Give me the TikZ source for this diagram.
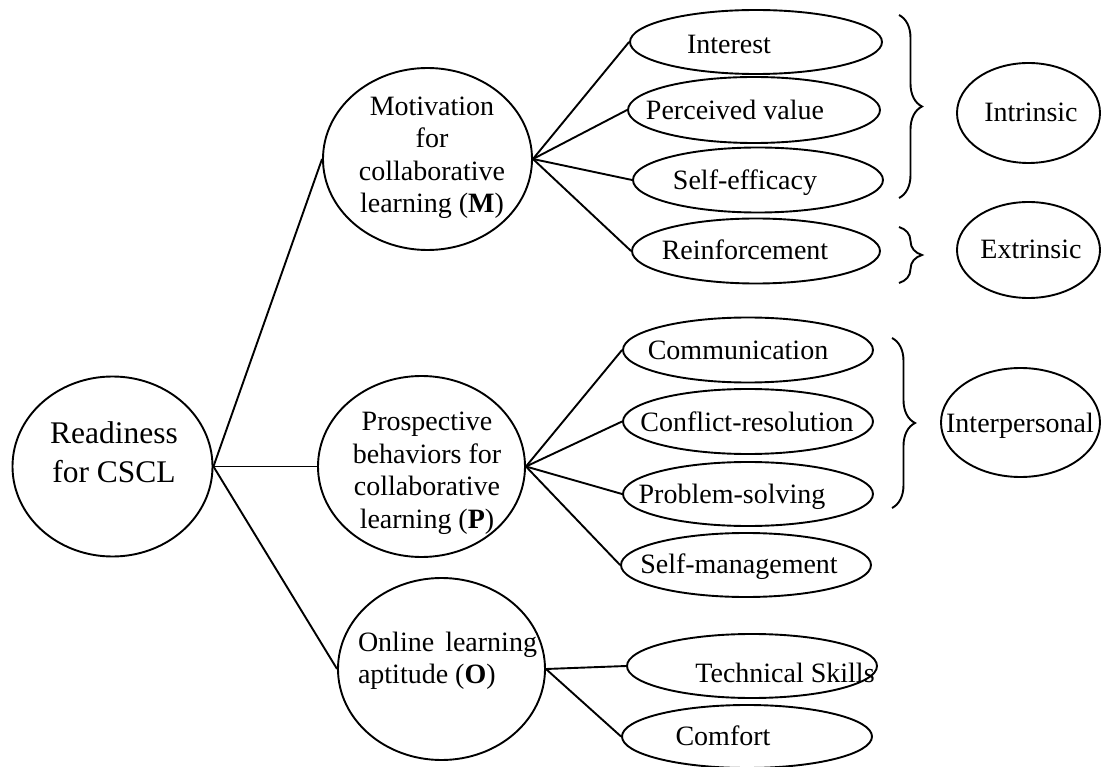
\documentclass[tikz,border=0pt]{standalone}
\usepackage{fontspec}
\setmainfont{Liberation Serif}
\usetikzlibrary{shapes.geometric,decorations.pathreplacing}
\begin{document}
\begin{tikzpicture}[x=1pt,y=-1pt,
  ell/.style={draw, ellipse, inner sep=0pt, line width=1.9pt},
  txt/.style={inner sep=0pt, font=\fontsize{28}{32.5}\selectfont},
  big/.style={inner sep=0pt, font=\fontsize{31.5}{39}\selectfont},
  conn/.style={line width=1.9pt},
  brc/.style={decorate, decoration={brace, amplitude=23pt}, line width=1.9pt}]
\useasboundingbox (0,0) rectangle (1101,767);

% main ellipses
\node[ell, minimum width=200pt, minimum height=180pt] (r) at (112.5,466.5) {};
\node[ell, minimum width=209pt, minimum height=182pt] (m) at (427.5,159) {};
\node[ell, minimum width=207pt, minimum height=181pt] (p) at (421.5,466.5) {};
\node[ell, minimum width=207pt, minimum height=182pt] (o) at (441.5,669) {};

% M leaves
\node[ell, minimum width=252pt, minimum height=64pt] (int) at (756,42) {};
\node[ell, minimum width=252pt, minimum height=66pt] (pv) at (754,110) {};
\node[ell, minimum width=250pt, minimum height=65pt] (se) at (758,180) {};
\node[ell, minimum width=248pt, minimum height=65pt] (rf) at (756,251) {};
\node[ell, minimum width=143pt, minimum height=100pt] (intr) at (1028.5,113) {};
\node[ell, minimum width=143pt, minimum height=96pt] (extr) at (1028.5,250) {};

% P leaves
\node[ell, minimum width=250pt, minimum height=65pt] (cm) at (748,350) {};
\node[ell, minimum width=250pt, minimum height=65pt] (cr) at (748,421.5) {};
\node[ell, minimum width=250pt, minimum height=64pt] (ps) at (748,494) {};
\node[ell, minimum width=250pt, minimum height=64pt] (sm) at (746,565) {};
\node[ell, minimum width=159pt, minimum height=109pt] (ip) at (1020.5,422.5) {};

% O leaves
\node[ell, minimum width=250pt, minimum height=64pt] (ts) at (752,666) {};
\node[ell, minimum width=250pt, minimum height=63pt] (cf) at (747,736.5) {};

% texts
\node[big, align=center] (r-t) at (114,452) {Readiness\\for CSCL};
\node[txt, align=center] (m-t) at (432,158) {Motivation\\for\\collaborative\\learning (\textbf{M})};
\node[txt, align=center] (p-t) at (427,473.5) {Prospective\\behaviors for\\collaborative\\learning (\textbf{P})};
\node[txt, align=left] (o-t) at (447.5,661) {\makebox[179pt][s]{Online learning}\\aptitude (\textbf{O})};

\node[txt, anchor=base] (int-t) at (729,54) {Interest};
\node[txt, anchor=base] (pv-t) at (735,120) {Perceived value};
\node[txt, anchor=base] (se-t) at (745,190) {Self-efficacy};
\node[txt, anchor=base] (rf-t) at (745,260) {Reinforcement};
\node[txt, anchor=base] (intr-t) at (1031,122) {Intrinsic};
\node[txt, anchor=base] (extr-t) at (1031,259) {Extrinsic};
\node[txt, anchor=base] (cm-t) at (738,360) {Communication};
\node[txt, anchor=base] (cr-t) at (747,431.5) {Conflict-resolution};
\node[txt, anchor=base] (ps-t) at (732,503) {Problem-solving};
\node[txt, anchor=base] (sm-t) at (739,573) {Self-management};
\node[txt, anchor=base] (ip-t) at (1020,432) {Interpersonal};
\node[txt, anchor=base] (ts-t) at (785,682) {Technical Skills};
\node[txt, anchor=base] (cf-t) at (723,745) {Comfort};

% connectors
\draw[conn] (r.east) -- (m.west);
\draw[conn] (r.east) -- (p.west);
\draw[conn] (r.east) -- (o.west);
\foreach \t in {int,pv,se,rf} \draw[conn] (m.east) -- (\t.west);
\foreach \t in {cm,cr,ps,sm} \draw[conn] (p.east) -- (\t.west);
\foreach \t in {ts,cf} \draw[conn] (o.east) -- (\t.west);

% braces
\coordinate (b1a) at (899,15);  \coordinate (b1b) at (899,198);
\coordinate (b2a) at (899,227); \coordinate (b2b) at (899,283);
\coordinate (b3a) at (892,338); \coordinate (b3b) at (892,508);
\draw[brc] (b1a) -- (b1b);
\draw[brc] (b2a) -- (b2b);
\draw[brc] (b3a) -- (b3b);
\end{tikzpicture}
\end{document}
